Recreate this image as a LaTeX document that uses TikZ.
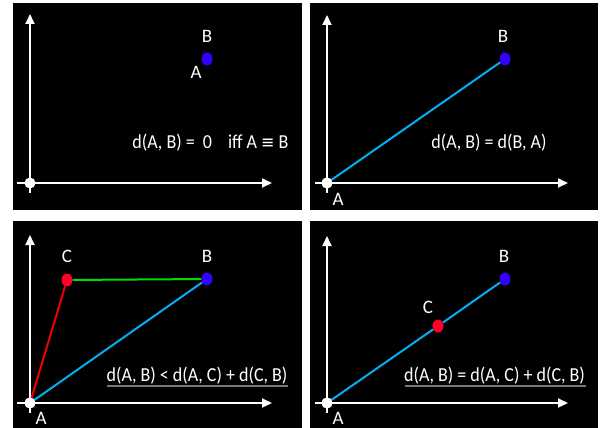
\documentclass[tikz,border=0pt]{standalone}
\usepackage{fontspec}
\setmainfont{Carlito}
\newfontfamily\dejavu{DejaVu Sans}
\usetikzlibrary{arrows.meta,shapes.geometric}
\definecolor{dotblue}{RGB}{51,0,255}
\definecolor{dotred}{RGB}{255,0,40}
\definecolor{segblue}{RGB}{0,176,240}
\definecolor{seggreen}{RGB}{0,220,0}
\definecolor{segred}{RGB}{240,0,0}
\definecolor{ulgray}{RGB}{120,120,120}
\newcommand{\tallish}[1]{\scalebox{1}[1.1]{#1}}
\begin{document}
\begin{tikzpicture}[x=1pt,y=-1pt,
 panel/.style={fill=black},
 axis/.style={draw=white,line width=2pt,-{Triangle[length=10pt,width=9pt]}},
 origin/.style={circle,fill=white,inner sep=0pt,minimum size=11pt},
 bdot/.style={ellipse,fill=dotblue,inner sep=0pt,minimum width=11pt,minimum height=13pt},
 rdot/.style={ellipse,fill=dotred,inner sep=0pt,minimum width=11pt,minimum height=13pt},
 lbl/.style={text=white,font=\fontsize{19}{22}\selectfont,inner sep=0pt},
 eq/.style={text=white,font=\fontsize{18}{21}\selectfont,inner sep=0pt},
 seg/.style={line width=2pt},
 uline/.style={draw=ulgray,line width=1.5pt}
]
\useasboundingbox[fill=white] (0,0) rectangle (603,428);
% panels
\fill[panel] (13,3) rectangle (302,210);
\fill[panel] (310,3) rectangle (598,210);
\fill[panel] (13,221) rectangle (302,428);
\fill[panel] (310,221) rectangle (598,428);

% ---------- panel 1 ----------
\coordinate (p1yb) at (30,193); \coordinate (p1yt) at (30,14);
\coordinate (p1xl) at (17,183); \coordinate (p1xr) at (272,183);
\draw[axis] (p1yb) -- (p1yt);
\draw[axis] (p1xl) -- (p1xr);
\node[origin] (p1o) at (30,183) {};
\node[bdot] (p1B) at (207,59) {};
\node[lbl] (p1Bl) at (207,36) {B};
\node[lbl] (p1Al) at (196,72) {A};
\node[eq] (p1t) at (210.5,143) {\tallish{d(A, B) =\ \ 0\hspace{16pt}iff A {\dejavu\fontsize{16}{20}\selectfont ≡} B}};

% ---------- panel 2 ----------
\coordinate (p2yb) at (327,193); \coordinate (p2yt) at (327,15);
\coordinate (p2xl) at (315,183); \coordinate (p2xr) at (568,183);
\draw[axis] (p2yb) -- (p2yt);
\draw[axis] (p2xl) -- (p2xr);
\node[origin] (p2o) at (327,183) {};
\node[bdot] (p2B) at (505,59) {};
\draw[seg,segblue] (p2o.center) -- (p2B);
\node[origin] at (p2o) {};
\node[lbl] (p2Bl) at (503,36) {B};
\node[lbl] (p2Al) at (338,199) {A};
\node[eq] (p2t) at (489,143) {\tallish{d(A, B) = d(B, A)}};

% ---------- panel 3 ----------
\coordinate (p3yb) at (30,413); \coordinate (p3yt) at (30,235);
\coordinate (p3xl) at (17,403); \coordinate (p3xr) at (272,403);
\draw[axis] (p3yb) -- (p3yt);
\draw[axis] (p3xl) -- (p3xr);
\node[origin] (p3o) at (30,403) {};
\node[rdot] (p3C) at (67,280) {};
\node[bdot] (p3B) at (207,279) {};
\draw[seg,segred] (p3o.center) -- (p3C);
\draw[seg,seggreen] (p3C) -- (p3B);
\draw[seg,segblue] (p3o.center) -- (p3B);
\node[origin] at (p3o) {};
\node[lbl] (p3Cl) at (67,256) {C};
\node[lbl] (p3Bl) at (207,256) {B};
\node[lbl] (p3Al) at (41,418) {A};
\node[eq] (p3t) at (197,376) {\tallish{d(A, B) < d(A, C) + d(C, B)}};
\draw[uline] (107,386) -- (288,386);

% ---------- panel 4 ----------
\coordinate (p4yb) at (327,413); \coordinate (p4yt) at (327,236);
\coordinate (p4xl) at (315,403); \coordinate (p4xr) at (568,403);
\draw[axis] (p4yb) -- (p4yt);
\draw[axis] (p4xl) -- (p4xr);
\node[origin] (p4o) at (327,403) {};
\node[rdot] (p4C) at (438,326) {};
\node[bdot] (p4B) at (505,279) {};
\draw[seg,segblue] (p4o.center) -- (p4C);
\draw[seg,segblue] (p4C) -- (p4B);
\node[origin] at (p4o) {};
\node[lbl] (p4Cl) at (428,307) {C};
\node[lbl] (p4Bl) at (504,256) {B};
\node[lbl] (p4Al) at (338,418) {A};
\node[eq] (p4t) at (494.5,376) {\tallish{d(A, B) = d(A, C) + d(C, B)}};
\draw[uline] (405,386) -- (586,386);
\end{tikzpicture}
\end{document}
